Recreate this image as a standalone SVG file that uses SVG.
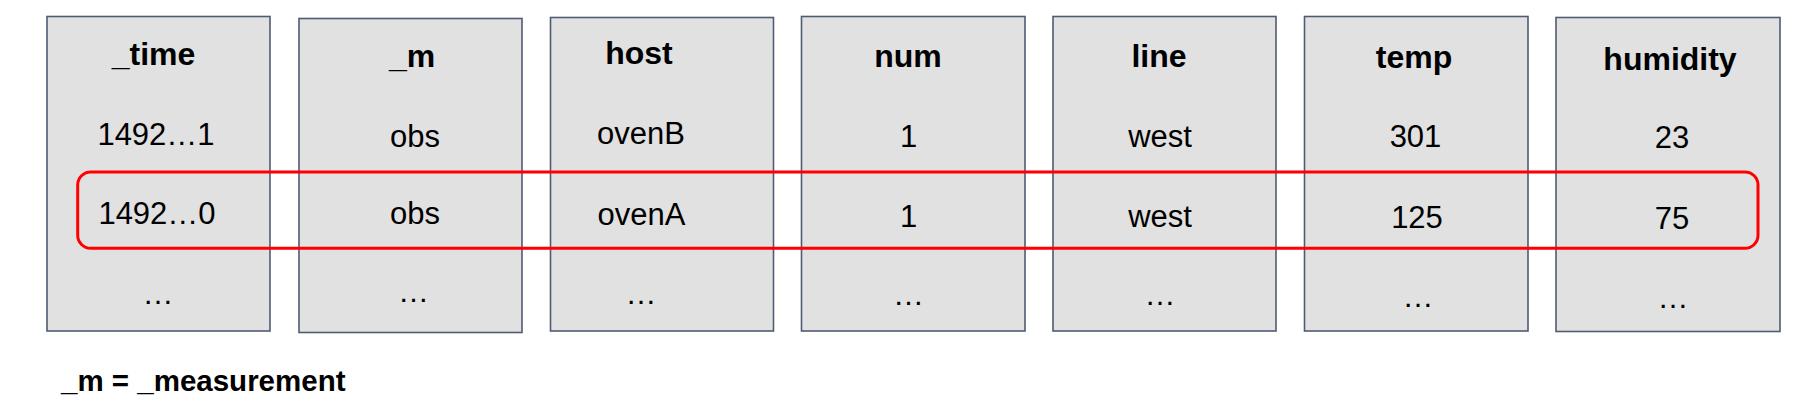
<svg xmlns="http://www.w3.org/2000/svg" width="1806" height="414" viewBox="0 0 1806 414">
<style>
.col{fill:#e1e1e1;stroke:#4f5b73;stroke-width:1.6}
.hd{font-family:"Liberation Sans",Arial,sans-serif;font-weight:bold;font-size:32px;fill:#000;text-anchor:middle}
.v{font-family:"Liberation Sans",Arial,sans-serif;font-size:31px;fill:#000;text-anchor:middle}
.hl{fill:none;stroke:#ff0000;stroke-width:3}
.note{font-family:"Liberation Sans",Arial,sans-serif;font-weight:bold;font-size:29.5px;fill:#000}
</style>
<rect width="1806" height="414" fill="#ffffff"/>
<g id="col-time">
<rect class="col" x="47" y="16.5" width="223" height="314.5"/>
<text class="hd" x="153.5" y="64.5">_time</text>
<text class="v" x="156" y="145">1492…1</text>
<text class="v" x="157" y="224">1492…0</text>
<text class="v" x="158" y="304">…</text>
</g>
<g id="col-m">
<rect class="col" x="299" y="18.5" width="223" height="314"/>
<text class="hd" x="412" y="66.5">_m</text>
<text class="v" x="415" y="146.5">obs</text>
<text class="v" x="415" y="224">obs</text>
<text class="v" x="413.5" y="302">…</text>
</g>
<g id="col-host">
<rect class="col" x="550.5" y="17.5" width="223" height="313.5"/>
<text class="hd" x="639" y="63.5">host</text>
<text class="v" x="641" y="144.3">ovenB</text>
<text class="v" x="641.5" y="225">ovenA</text>
<text class="v" x="641" y="304">…</text>
</g>
<g id="col-num">
<rect class="col" x="801.5" y="16.5" width="223.5" height="314.5"/>
<text class="hd" x="908" y="66.5">num</text>
<text class="v" x="908.5" y="146.5">1</text>
<text class="v" x="908.5" y="226.5">1</text>
<text class="v" x="908.5" y="305">…</text>
</g>
<g id="col-line">
<rect class="col" x="1053" y="16.5" width="223" height="314.5"/>
<text class="hd" x="1159" y="66.5">line</text>
<text class="v" x="1160" y="146.5">west</text>
<text class="v" x="1160" y="226.5">west</text>
<text class="v" x="1160" y="305">…</text>
</g>
<g id="col-temp">
<rect class="col" x="1304.5" y="16.5" width="223.5" height="314.5"/>
<text class="hd" x="1414" y="68.3">temp</text>
<text class="v" x="1415.5" y="147.3">301</text>
<text class="v" x="1417" y="228.3">125</text>
<text class="v" x="1418" y="307">…</text>
</g>
<g id="col-humidity">
<rect class="col" x="1556" y="17.5" width="224" height="314"/>
<text class="hd" x="1670" y="70">humidity</text>
<text class="v" x="1672" y="148.3">23</text>
<text class="v" x="1672" y="229.3">75</text>
<text class="v" x="1673" y="308">…</text>
</g>
<g id="connectors">
<rect id="highlight-row" class="hl" x="77.7" y="172" width="1680.3" height="76.3" rx="13" ry="13"/>
</g>
<g id="legend">
<text class="note" x="61" y="390.5">_m = _measurement</text>
</g>
</svg>
